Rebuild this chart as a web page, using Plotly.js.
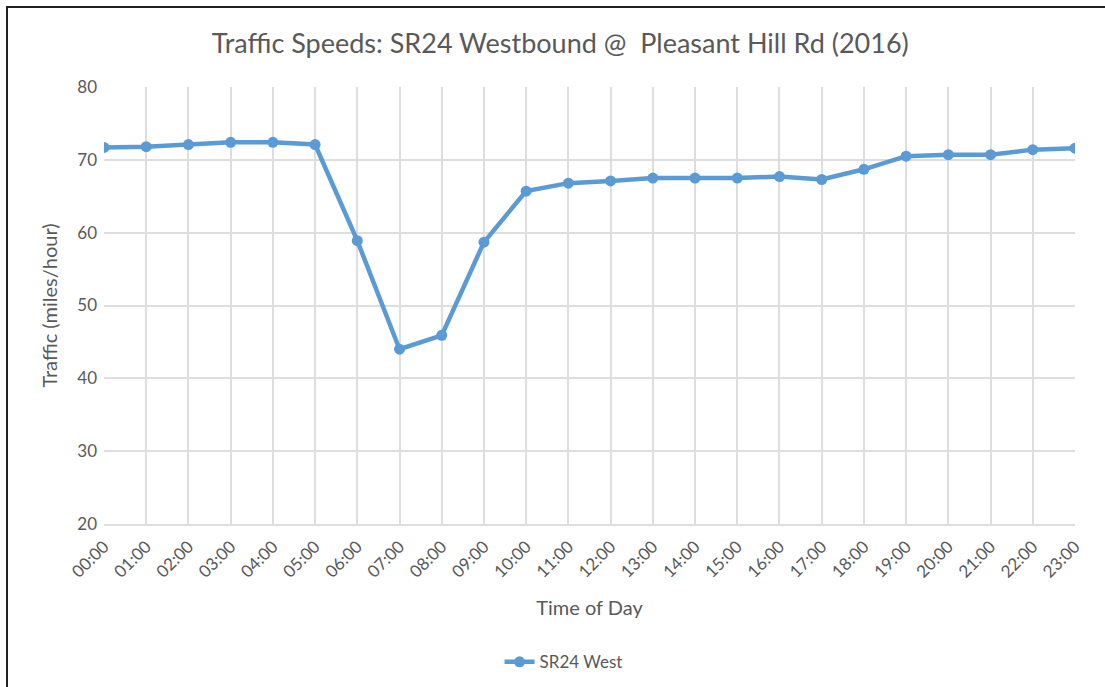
<!DOCTYPE html>
<html>
<head>
<meta charset="utf-8">
<script src="https://cdn.plot.ly/plotly-3.0.1.min.js"></script>
<style>
  html, body { margin: 0; padding: 0; background: #fff; }
  #chart { width: 1105px; height: 687px; }
  #frame {
    position: absolute; left: 6px; top: 6px; width: 1110px; height: 700px;
    border-left: 2px solid #222; border-top: 2px solid #222; pointer-events: none;
  }
</style>
</head>
<body>
<div id="chart"></div>
<div id="frame"></div>
<script>
const hours = ['00:00', '01:00', '02:00', '03:00', '04:00', '05:00', '06:00', '07:00',
  '08:00', '09:00', '10:00', '11:00', '12:00', '13:00', '14:00', '15:00',
  '16:00', '17:00', '18:00', '19:00', '20:00', '21:00', '22:00', '23:00'];
const sr24West = [71.7, 71.8, 72.1, 72.4, 72.4, 72.1, 58.9, 44.0,
  45.9, 58.7, 65.7, 66.8, 67.1, 67.5, 67.5, 67.5,
  67.7, 67.3, 68.7, 70.5, 70.7, 70.7, 71.4, 71.6];
const yTicks = [20, 30, 40, 50, 60, 70, 80];

const font = 'Lato, "Open Sans", sans-serif';
const grey = '#595959';
const gridGrey = '#dedede';

Plotly.newPlot('chart', [{
  type: 'scatter',
  mode: 'lines+markers',
  name: 'SR24 West',
  x: hours.map((_, i) => i),
  y: sr24West,
  line: { color: '#5b9bd5', width: 4.5 },
  marker: { color: '#5b9bd5', size: 11 },
}], {
  width: 1105,
  height: 687,
  margin: { l: 104, r: 30, t: 87, b: 163 },
  paper_bgcolor: '#fff',
  plot_bgcolor: '#fff',
  font: { family: font, color: grey },
  title: {
    text: 'Traffic Speeds: SR24 Westbound @  Pleasant Hill Rd (2016)',
    font: { size: 27, color: grey, family: font },
    xref: 'container', x: 0.507, xanchor: 'center',
    yref: 'container', y: 0.936, yanchor: 'middle',
  },
  xaxis: {
    range: [0, 23],
    tickvals: hours.map((_, i) => i),
    ticktext: hours,
    tickangle: -45,
    tickfont: { size: 17, color: grey },
    ticklabelstandoff: 4,
    showgrid: true,
    gridcolor: gridGrey,
    gridwidth: 2,
    showline: true,
    linecolor: gridGrey,
    linewidth: 2,
    zeroline: false,
    ticks: '',
    title: { text: 'Time of Day', font: { size: 20, color: grey }, standoff: 20 },
  },
  yaxis: {
    range: [20, 80],
    tickvals: yTicks,
    tickfont: { size: 17, color: grey },
    showgrid: true,
    gridcolor: gridGrey,
    gridwidth: 2,
    zeroline: false,
    ticks: '',
    ticklabelstandoff: 6,
    title: { text: 'Traffic (miles/hour)', font: { size: 20, color: grey }, standoff: 14 },
  },
  showlegend: true,
  legend: {
    orientation: 'h',
    x: 0.51, xref: 'container', xanchor: 'center',
    y: 0.036, yref: 'container', yanchor: 'middle',
    font: { size: 17, color: grey },
  },
}, { displayModeBar: false, staticPlot: true });
</script>
</body>
</html>
